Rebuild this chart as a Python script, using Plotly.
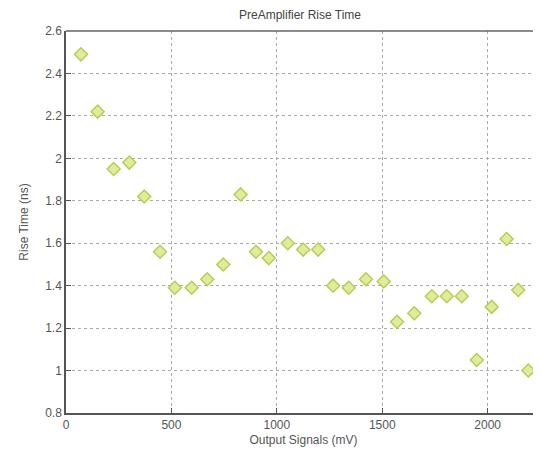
import plotly.graph_objects as go

output_mv = [71, 150, 226, 300, 371, 446, 516, 596, 670, 746, 828, 901, 962,
             1052, 1125, 1196, 1267, 1341, 1423, 1507, 1570, 1652, 1735, 1806,
             1877, 1948, 2019, 2090, 2145, 2193]
rise_ns = [2.49, 2.22, 1.95, 1.98, 1.82, 1.56, 1.39, 1.39, 1.43, 1.50, 1.83, 1.56, 1.53,
           1.60, 1.57, 1.57, 1.40, 1.39, 1.43, 1.42, 1.23, 1.27, 1.35, 1.35,
           1.35, 1.05, 1.30, 1.62, 1.38, 1.00]
x_ticks = [0, 500, 1000, 1500, 2000]
y_ticks = [0.8, 1, 1.2, 1.4, 1.6, 1.8, 2, 2.2, 2.4, 2.6]
y_labels = ["0.8", "1", "1.2", "1.4", "1.6", "1.8", "2", "2.2", "2.4", "2.6"]

W, H = 533, 447
fig = go.Figure()
fig.add_trace(go.Scatter(
    x=output_mv, y=rise_ns, mode="markers",
    marker=dict(symbol="diamond", size=10, color="#e2eb9c",
                line=dict(color="#b9cc55", width=1.5)),
    showlegend=False, cliponaxis=False))

axis_font = dict(family="Liberation Sans, Arial, sans-serif", size=12, color="#555")
fig.update_layout(
    width=W, height=H,
    margin=dict(l=58, r=0, t=23, b=42, autoexpand=False),
    paper_bgcolor="white", plot_bgcolor="white",
    font=axis_font,
    title=dict(text="PreAmplifier Rise Time", x=292 / W, xanchor="center",
               y=1 - 7 / H, yanchor="middle",
               font=dict(family="Liberation Sans, Arial, sans-serif", size=12, color="#444")),
    xaxis=dict(range=[0, 2253], tickvals=x_ticks, ticks="inside", ticklen=5,
               tickcolor="#555", showline=True, linecolor="#555", linewidth=1.5,
               showgrid=True, gridcolor="#aaa", griddash="dot", gridwidth=1,
               zeroline=False, automargin=False,
               title=dict(text="Output Signals (mV)", standoff=4,
                          font=dict(size=12, color="#555")),
               tickfont=dict(size=12, color="#555")),
    yaxis=dict(range=[0.8, 2.6], tickvals=y_ticks, ticktext=y_labels, ticks="inside",
               ticklen=5, tickcolor="#555", showline=True, linecolor="#555",
               linewidth=1.5, showgrid=True, gridcolor="#aaa", griddash="dot",
               gridwidth=1, zeroline=False, automargin=False,
               title=dict(text="Rise Time (ns)", standoff=14,
                          font=dict(size=12, color="#555")),
               tickfont=dict(size=12, color="#555")),
    shapes=[dict(type="line", xref="paper", yref="paper", x0=0, x1=1, y0=1, y1=1,
                 line=dict(color="#666", width=1.5))],
)
fig.write_html("out.html")
